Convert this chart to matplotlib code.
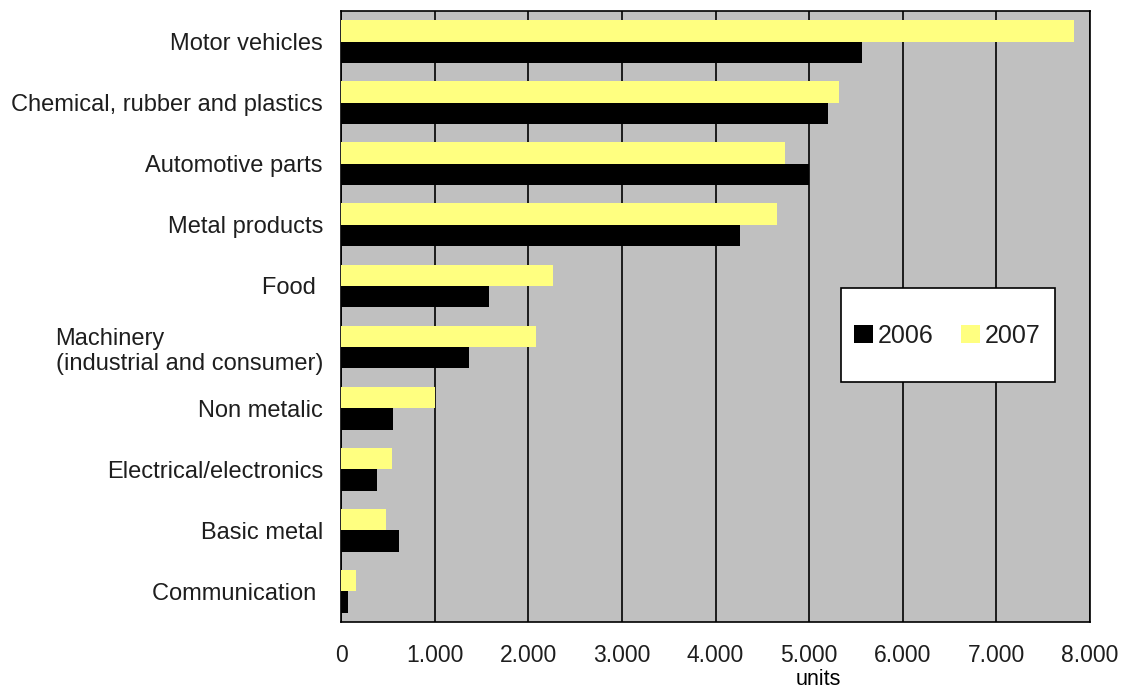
import matplotlib.pyplot as plt
import matplotlib.patches as mpatches
from matplotlib.ticker import FuncFormatter, MultipleLocator
import numpy as np

plt.rcParams['font.family'] = 'Liberation Sans'
plt.rcParams['text.color'] = '#1e1e1e'
plt.rcParams['xtick.color'] = '#1e1e1e'
plt.rcParams['ytick.color'] = '#1e1e1e'

# data, top to bottom
categories = ['Motor vehicles', 'Chemical, rubber and plastics', 'Automotive parts',
              'Metal products', 'Food ', 'Machinery\n(industrial and consumer)',
              'Non metalic', 'Electrical/electronics', 'Basic metal', 'Communication ']
units_2006 = [5560, 5200, 5000, 4265, 1580, 1365, 560, 380, 620, 78]
units_2007 = [7830, 5320, 4745, 4660, 2265, 2080, 1000, 540, 480, 157]

fig = plt.figure(figsize=(11.22, 6.89), dpi=100)
ax = fig.add_axes([341 / 1122, 1 - 622 / 689, 749 / 1122, 611 / 689])

pos = np.arange(len(categories))
h = 0.35
ax.barh(pos - h / 2, units_2007, height=h, color='#ffff80', label='2007', zorder=3)
ax.barh(pos + h / 2, units_2006, height=h, color='#000000', label='2006', zorder=3)

ax.set_facecolor('#c0c0c0')
ax.set_xlim(0, 8000)
ax.set_ylim(len(categories) - 0.5, -0.5)
ax.xaxis.set_major_locator(MultipleLocator(1000))
ax.xaxis.set_major_formatter(FuncFormatter(lambda v, p: '{:,}'.format(int(v)).replace(',', '.')))
ax.grid(axis='x', color='black', linewidth=1.2, zorder=1)
ax.set_axisbelow(True)

ax.set_yticks(pos)
ax.set_yticklabels(categories, fontsize=17)
for lbl in ax.get_yticklabels():
    lbl.set_multialignment('left')
ax.tick_params(axis='y', length=0, pad=13)
ax.tick_params(axis='x', length=0, pad=16, labelsize=16.5)

for s in ax.spines.values():
    s.set_color('black')
    s.set_linewidth(1.2)

ax.set_xlabel('units', fontsize=15.5)
ax.xaxis.set_label_coords(0.637, -0.077)

# legend box
box = mpatches.Rectangle((0.668, 0.393), 0.285, 0.154, transform=ax.transAxes,
                         facecolor='white', edgecolor='black', linewidth=1.2, zorder=5)
ax.add_patch(box)
handles, labels = ax.get_legend_handles_labels()
leg = ax.legend(handles[::-1], labels[::-1], loc='center', bbox_to_anchor=(0.81, 0.468),
                ncol=2, frameon=False, fontsize=18, handlelength=0.75, handleheight=0.75,
                handletextpad=0.2, columnspacing=1.1)
leg.set_zorder(6)

fig.savefig('out.png', dpi=100)
